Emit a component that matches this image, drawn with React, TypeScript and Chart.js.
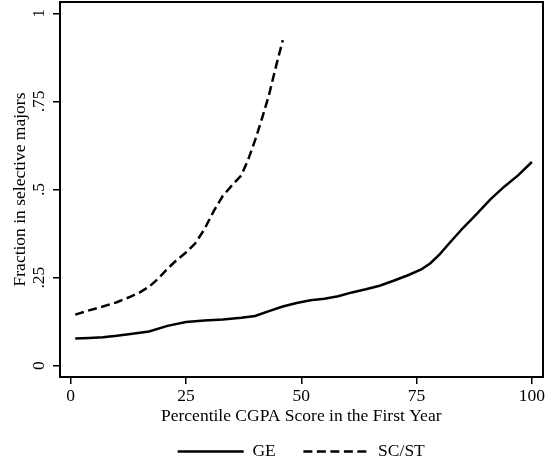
import { useEffect, useRef } from "react";
import { Chart, registerables } from "chart.js";

Chart.register(...registerables);

const xTicks = [0, 25, 50, 75, 100];
const yTicks = [0, 0.25, 0.5, 0.75, 1];
const yTickLabels = ["0", ".25", ".5", ".75", "1"];

const geX = [1, 4, 7, 10, 13, 17, 21, 25, 29, 33, 37, 40, 43, 46, 49, 52, 55, 58, 61, 64, 67, 70, 73, 76, 78, 80, 82, 85, 88, 91, 94, 97, 100];
const geY = [0.077, 0.079, 0.081, 0.085, 0.09, 0.097, 0.113, 0.124, 0.128, 0.131, 0.136, 0.141, 0.155, 0.168, 0.178, 0.186, 0.19, 0.197, 0.208, 0.217, 0.227, 0.241, 0.256, 0.273, 0.291, 0.316, 0.346, 0.39, 0.43, 0.472, 0.508, 0.54, 0.578];

const scX = [1, 4, 7, 10, 13, 15, 17, 19, 21, 23, 25, 27, 29, 31, 33, 35, 37, 38.5, 40, 41.5, 43, 44.5, 46];
const scY = [0.145, 0.157, 0.168, 0.18, 0.196, 0.208, 0.224, 0.247, 0.275, 0.3, 0.321, 0.347, 0.387, 0.438, 0.482, 0.512, 0.54, 0.585, 0.64, 0.702, 0.768, 0.848, 0.924];

const seriesLabels = ["GE", "SC/ST"];
const xTitle = "Percentile CGPA Score in the First Year";
const yTitle = "Fraction in selective majors";

export default function App() {
  const ref = useRef<HTMLCanvasElement>(null);
  useEffect(() => {
    const family = '"Liberation Serif", "Times New Roman", serif';
    const fnt = { family, size: 17.5 };
    const noPad = (s: any) => {
      s.paddingTop = 0;
      s.paddingBottom = 0;
      s.paddingLeft = 0;
      s.paddingRight = 0;
    };
    const chart = new Chart(ref.current!, {
      type: "line",
      data: {
        datasets: [
          {
            label: seriesLabels[0],
            data: geX.map((x, i) => ({ x, y: geY[i] })),
            borderColor: "#000",
            backgroundColor: "#000",
            borderWidth: 2.5,
            pointRadius: 0,
            fill: false,
            tension: 0,
          },
          {
            label: seriesLabels[1],
            data: scX.map((x, i) => ({ x, y: scY[i] })),
            borderColor: "#000",
            backgroundColor: "#000",
            borderWidth: 2.5,
            borderDash: [9, 4.5],
            pointRadius: 0,
            fill: false,
            tension: 0,
          },
        ],
      },
      options: {
        responsive: false,
        animation: false,
        devicePixelRatio: 1,
        layout: { padding: { left: 0, top: 2, right: 4.5, bottom: -5.25 } },
        plugins: {
          tooltip: { enabled: false },
          legend: {
            position: "bottom",
            fullSize: false,
            labels: {
              usePointStyle: true,
              pointStyle: "line",
              pointStyleWidth: 66,
              color: "#000",
              font: fnt,
              padding: 27.6,
              generateLabels: (c: any) => {
                const items = (Chart as any).defaults.plugins.legend.labels.generateLabels(c);
                items.forEach((it: any, i: number) => {
                  const ds = c.data.datasets[i];
                  it.lineDash = ds.borderDash || [];
                  it.lineWidth = 2.3;
                  it.strokeStyle = "#000";
                  it.fillStyle = "#000";
                });
                return items;
              },
            },
          },
        },
        scales: {
          x: {
            type: "linear",
            position: "bottom",
            min: -2.3,
            max: 102.3,
            afterBuildTicks: (s: any) => {
              s.ticks = xTicks.map((v) => ({ value: v }));
            },
            afterFit: (s: any) => {
              s.height = 38.15;
              noPad(s);
            },
            grid: { drawOnChartArea: false, drawTicks: true, tickLength: 7, color: "#000", lineWidth: 1.5 },
            border: { color: "#000", width: 2 },
            ticks: { color: "#000", font: fnt, padding: 2, maxRotation: 0, autoSkip: false },
            title: { display: true, text: xTitle, color: "#000", font: fnt, padding: { top: 0, bottom: -11.5 } },
          },
          y: {
            type: "linear",
            position: "left",
            min: -0.032,
            max: 1.032,
            afterBuildTicks: (s: any) => {
              s.ticks = yTicks.map((v) => ({ value: v }));
            },
            afterFit: (s: any) => {
              s.width = 60;
              noPad(s);
            },
            grid: { drawOnChartArea: false, drawTicks: true, tickLength: 7, color: "#000", lineWidth: 1.5 },
            border: { color: "#000", width: 2 },
            ticks: {
              color: "#000",
              font: fnt,
              padding: 3,
              minRotation: 90,
              maxRotation: 90,
              crossAlign: "center",
              autoSkip: false,
              callback: (_v: any, i: number) => yTickLabels[i],
            },
            title: { display: true, text: yTitle, color: "#000", font: fnt, padding: { top: 10, bottom: 0 } },
          },
          x2: {
            type: "linear",
            position: "top",
            min: -2.3,
            max: 102.3,
            grid: { display: false, drawTicks: false },
            ticks: { display: false },
            border: { color: "#000", width: 2 },
            afterFit: (s: any) => {
              s.height = 0;
              noPad(s);
            },
          },
          y2: {
            type: "linear",
            position: "right",
            min: -0.032,
            max: 1.032,
            grid: { display: false, drawTicks: false },
            ticks: { display: false },
            border: { color: "#000", width: 2 },
            afterFit: (s: any) => {
              s.width = 0;
              noPad(s);
            },
          },
        },
      },
    } as any);
    return () => chart.destroy();
  }, []);
  return (
    <div style={{ position: "absolute", left: 0, top: 0, width: 547, height: 465 }}>
      <canvas ref={ref} width={547} height={465} style={{ display: "block" }} />
    </div>
  );
}
